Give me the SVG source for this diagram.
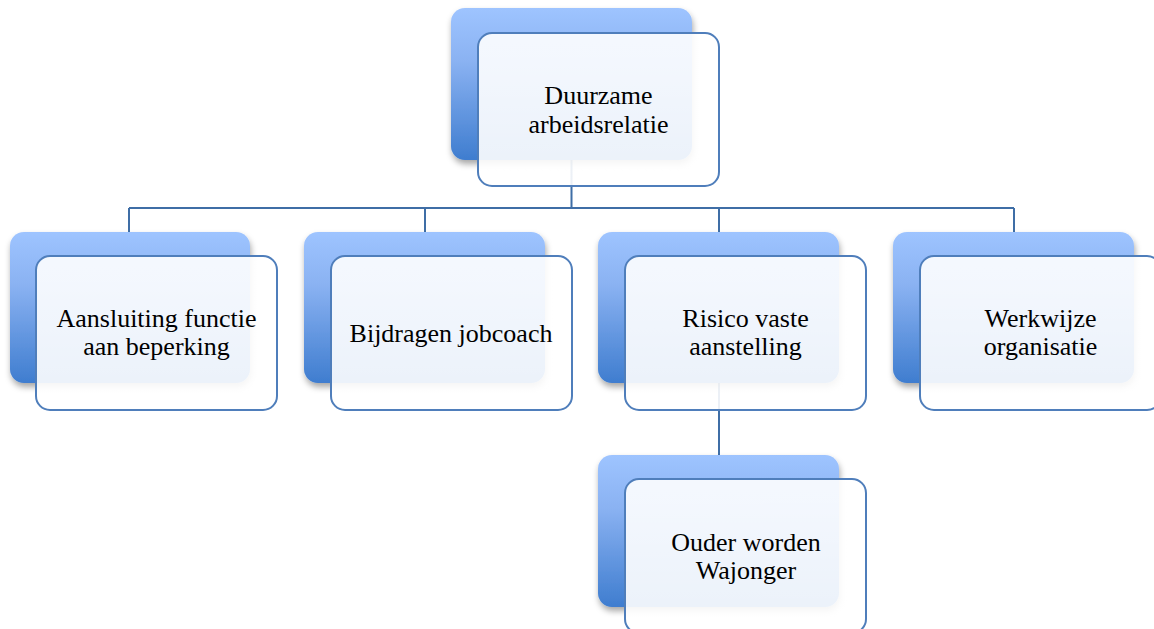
<svg xmlns="http://www.w3.org/2000/svg" width="1154" height="629" viewBox="0 0 1154 629">
  <defs>
    <linearGradient id="backFill" x1="0" y1="0" x2="0" y2="1">
      <stop offset="0" stop-color="#9EC4FF"/>
      <stop offset="0.35" stop-color="#8AB2F2"/>
      <stop offset="1" stop-color="#3F7DCF"/>
    </linearGradient>
    <linearGradient id="frontFill" x1="0" y1="0" x2="0" y2="1">
      <stop offset="0" stop-color="#FFFFFF" stop-opacity="0.9"/>
      <stop offset="1" stop-color="#FFFFFF" stop-opacity="0.9"/>
    </linearGradient>
    <filter id="shadow" x="-10%" y="-10%" width="125%" height="130%">
      <feDropShadow dx="1" dy="4" stdDeviation="3" flood-color="#000000" flood-opacity="0.35"/>
    </filter>
  </defs>
  <style>
    .back { fill: url(#backFill); filter: url(#shadow); }
    .front { fill: url(#frontFill); stroke: #4F7EBB; stroke-width: 2; }
    .conn { fill: none; stroke: #3F6EA6; stroke-width: 2; }
    .label { font-family: "Liberation Serif", "Times New Roman", serif; font-size: 26px; fill: #000000; text-anchor: middle; }
  </style>
  <rect width="1154" height="629" fill="#FFFFFF"/>

  <g id="connectors">
    <path class="conn" d="M571.5 160 V208 M129 208 H1014 M129 208 V232 M425 208 V232 M719 208 V232 M1014 208 V232"/>
    <path class="conn" d="M719 383 V455"/>
  </g>

  <g id="node-duurzame">
    <rect class="back" x="451" y="8" width="241" height="152" rx="14"/>
    <rect class="front" x="478" y="33" width="241" height="153" rx="14"/>
    <text class="label" x="598.5" y="104">Duurzame</text>
    <text class="label" x="598.5" y="133">arbeidsrelatie</text>
  </g>

  <g id="node-aansluiting">
    <rect class="back" x="10" y="232" width="240" height="151" rx="14"/>
    <rect class="front" x="36" y="256" width="241" height="154" rx="14"/>
    <text class="label" x="156.5" y="327">Aansluiting functie</text>
    <text class="label" x="156.5" y="355">aan beperking</text>
  </g>

  <g id="node-bijdragen">
    <rect class="back" x="304" y="232" width="241" height="151" rx="14"/>
    <rect class="front" x="331" y="256" width="241" height="154" rx="14"/>
    <text class="label" x="451" y="342">Bijdragen jobcoach</text>
  </g>

  <g id="node-risico">
    <rect class="back" x="598" y="232" width="241" height="151" rx="14"/>
    <rect class="front" x="625" y="256" width="241" height="154" rx="14"/>
    <text class="label" x="745.5" y="327">Risico vaste</text>
    <text class="label" x="745.5" y="355">aanstelling</text>
  </g>

  <g id="node-werkwijze">
    <rect class="back" x="893" y="232" width="241" height="151" rx="14"/>
    <rect class="front" x="920" y="256" width="241" height="154" rx="14"/>
    <text class="label" x="1040.5" y="327">Werkwijze</text>
    <text class="label" x="1040.5" y="355">organisatie</text>
  </g>

  <g id="node-ouder">
    <rect class="back" x="598" y="455" width="241" height="152" rx="14"/>
    <rect class="front" x="625" y="479" width="241" height="154" rx="14"/>
    <text class="label" x="746" y="551">Ouder worden</text>
    <text class="label" x="746" y="579">Wajonger</text>
  </g>
</svg>
